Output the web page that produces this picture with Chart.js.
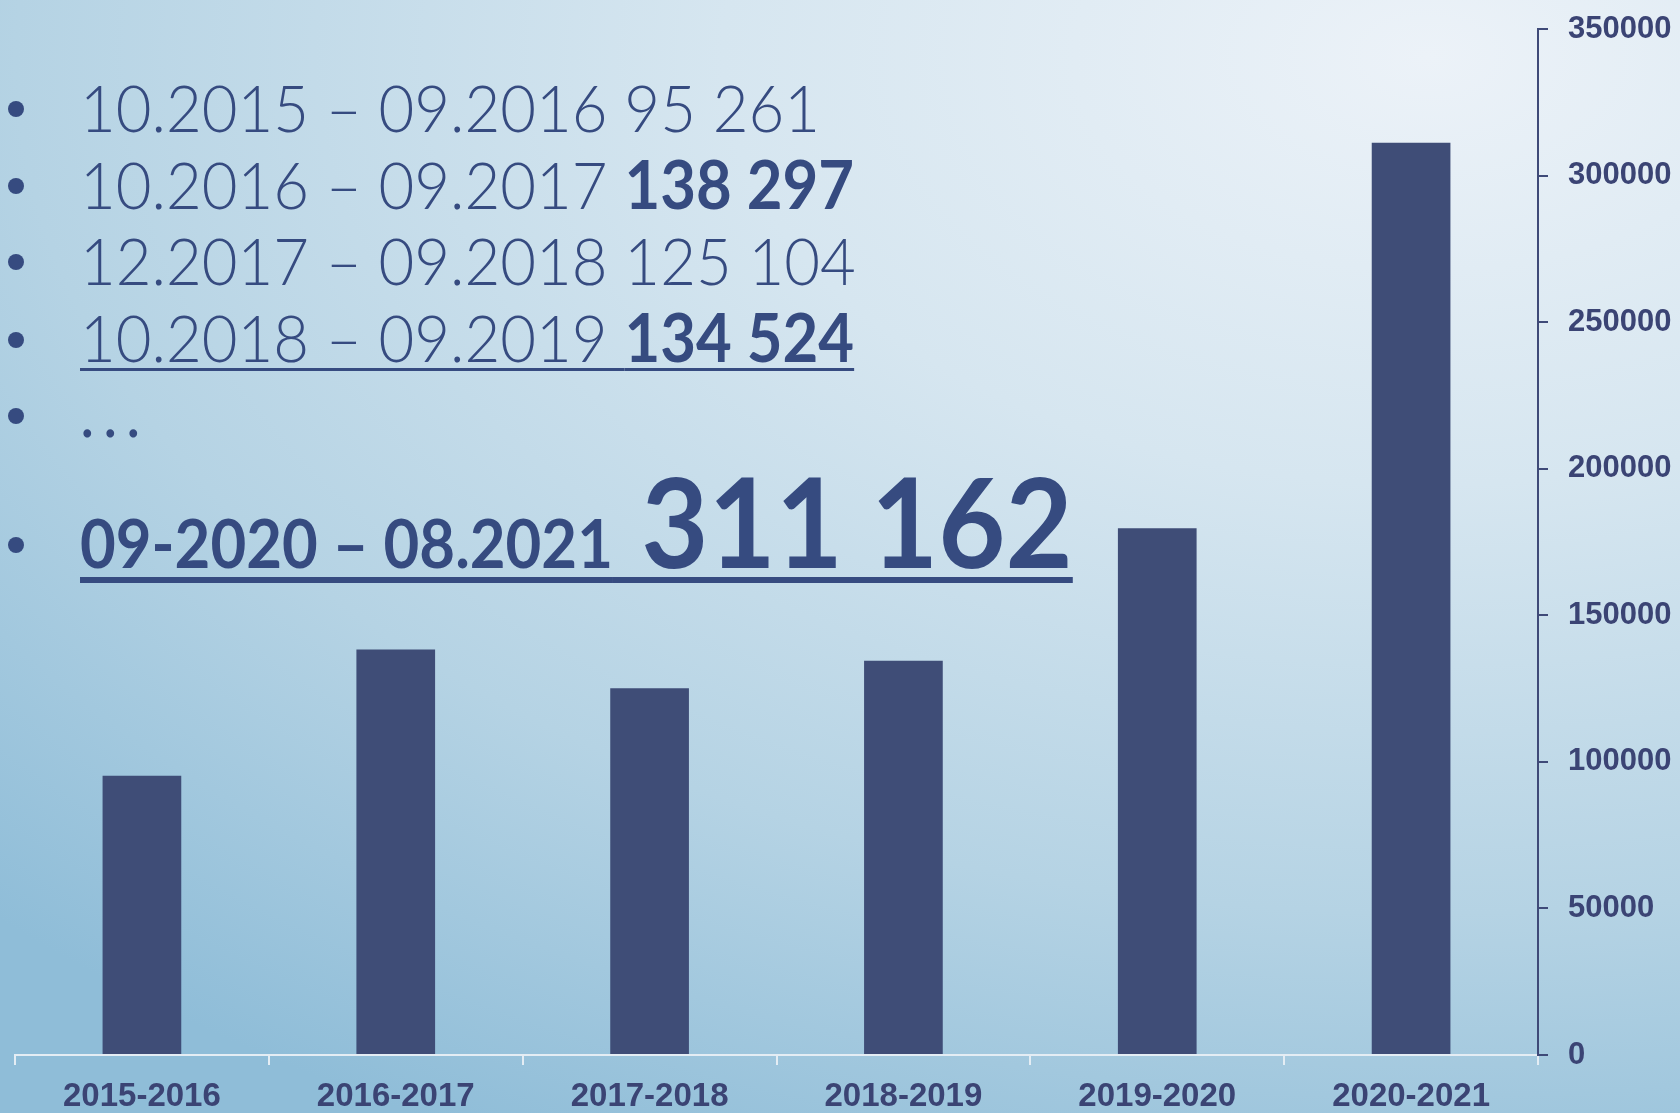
<!DOCTYPE html>
<html>
<head>
<meta charset="utf-8">
<script src="https://cdn.jsdelivr.net/npm/chart.js@4/dist/chart.umd.min.js"></script>
<style>
  html, body { margin: 0; padding: 0; overflow: hidden; }
  body {
    width: 1680px; height: 1113px;
    background: radial-gradient(ellipse 2016px 1224px at 1428px 56px, #ecf2f8 0%, #d6e6f0 35%, #b5d3e4 70%, #8fbdd8 100%);
  }
  #wrap { position: relative; width: 1680px; height: 1113px; }
  #chart { position: absolute; left: 0; top: 0; }
  .line {
    position: absolute; left: 80px; line-height: 1; white-space: nowrap;
    font-family: 'Lato', 'Open Sans', sans-serif; font-weight: 300; font-size: 66px;
    color: #364b80; transform: scaleX(0.935); transform-origin: 0 0;
  }
  .line b { font-weight: 700; }
  .dot { position: absolute; left: 8px; width: 16px; height: 16px; border-radius: 50%; background: #364b80; }
  .u { text-decoration: underline; text-decoration-thickness: 3px; text-underline-offset: 6px; }
  .big { font-size: 124px; font-weight: 700; }
  .big .small { font-size: 66px; }
  .u6 { text-decoration: underline; text-decoration-thickness: 6px; text-underline-offset: 9px; }
  .dots { font-weight: 400; letter-spacing: 9px; }
</style>
</head>
<body>
<div id="wrap">
  <canvas id="chart" width="1680" height="1113"></canvas>
  <div id="notes"></div>
</div>
<script>
// сезоны и количество
const seasons = ['2015-2016', '2016-2017', '2017-2018', '2018-2019', '2019-2020', '2020-2021']
const counts = [95261, 138297, 125104, 134524, 179700, 311162]
const yTicks = [0, 50000, 100000, 150000, 200000, 250000, 300000, 350000]

// подписи слева
const periods = ['10.2015 – 09.2016', '10.2016 – 09.2017', '12.2017 – 09.2018', '10.2018 – 09.2019']
const periodValues = ['95 261', '138 297', '125 104', '134 524']
const lastPeriod = '09-2020 – 08.2021'
const lastValue = '311 162'

const ink = '#364b80'
const barColor = '#3f4d77'

// текст с пунктами
const notes = document.getElementById('notes')
const baselines = [133, 210, 286, 363, 438]
const dotY = [109, 186, 262, 340, 416, 545]
const SIZE = 66
const BASE = 0.887

function addLine(html, baseline, size, cls) {
  const d = document.createElement('div')
  d.className = 'line' + (cls ? ' ' + cls : '')
  d.style.top = (baseline - BASE * size) + 'px'
  d.innerHTML = html
  notes.appendChild(d)
}

periods.forEach(function (p, i) {
  const bold = i === 1 || i === 3
  const val = bold ? '<b>' + periodValues[i] + '</b>' : periodValues[i]
  const txt = i === 3 ? '<span class="u">' + p + ' ' + val + '</span>' : p + ' ' + val
  addLine(txt, baselines[i], SIZE)
})
addLine('...', baselines[4], SIZE, 'dots')
addLine('<span class="u6"><span class="small">' + lastPeriod + '</span> ' + lastValue + '</span>', 568, 124, 'big')

dotY.forEach(function (y) {
  const d = document.createElement('div')
  d.className = 'dot'
  d.style.top = (y - 8) + 'px'
  notes.appendChild(d)
})

const ctx = document.getElementById('chart').getContext('2d')
new Chart(ctx, {
  type: 'bar',
  data: {
    labels: seasons,
    datasets: [
      {
        data: counts,
        backgroundColor: barColor,
        borderWidth: 0,
        categoryPercentage: 1,
        barPercentage: 0.31
      }
    ]
  },
  options: {
    responsive: false,
    animation: false,
    devicePixelRatio: 1,
    layout: { padding: { left: 15, top: 29, right: 0, bottom: 0 } },
    plugins: {
      legend: { display: false },
      tooltip: { enabled: false }
    },
    scales: {
      x: {
        afterFit: function (scale) { scale.height = 58 },
        grid: {
          drawOnChartArea: false,
          offset: true,
          tickLength: 10,
          color: '#e4edf4',
          lineWidth: 2
        },
        border: { color: '#e4edf4', width: 2 },
        ticks: {
          padding: 12,
          color: '#3b4474',
          font: { family: "'Liberation Sans', Arial, sans-serif", size: 33, weight: 'bold' }
        }
      },
      y: {
        position: 'right',
        min: 0,
        max: 350000,
        afterFit: function (scale) {
          scale.width = 142
          scale.paddingTop = 0
          scale.paddingBottom = 0
        },
        afterBuildTicks: function (scale) {
          scale.ticks = yTicks.map(function (v) { return { value: v } })
        },
        grid: {
          drawOnChartArea: false,
          tickLength: 10,
          color: '#3f4a78',
          lineWidth: 2
        },
        border: { color: '#3f4a78', width: 2 },
        ticks: {
          padding: 20,
          color: '#3b4474',
          font: { family: "'Liberation Sans', Arial, sans-serif", size: 31, weight: 'bold' },
          callback: function (v) { return String(v) }
        }
      }
    }
  }
})
</script>
</body>
</html>
